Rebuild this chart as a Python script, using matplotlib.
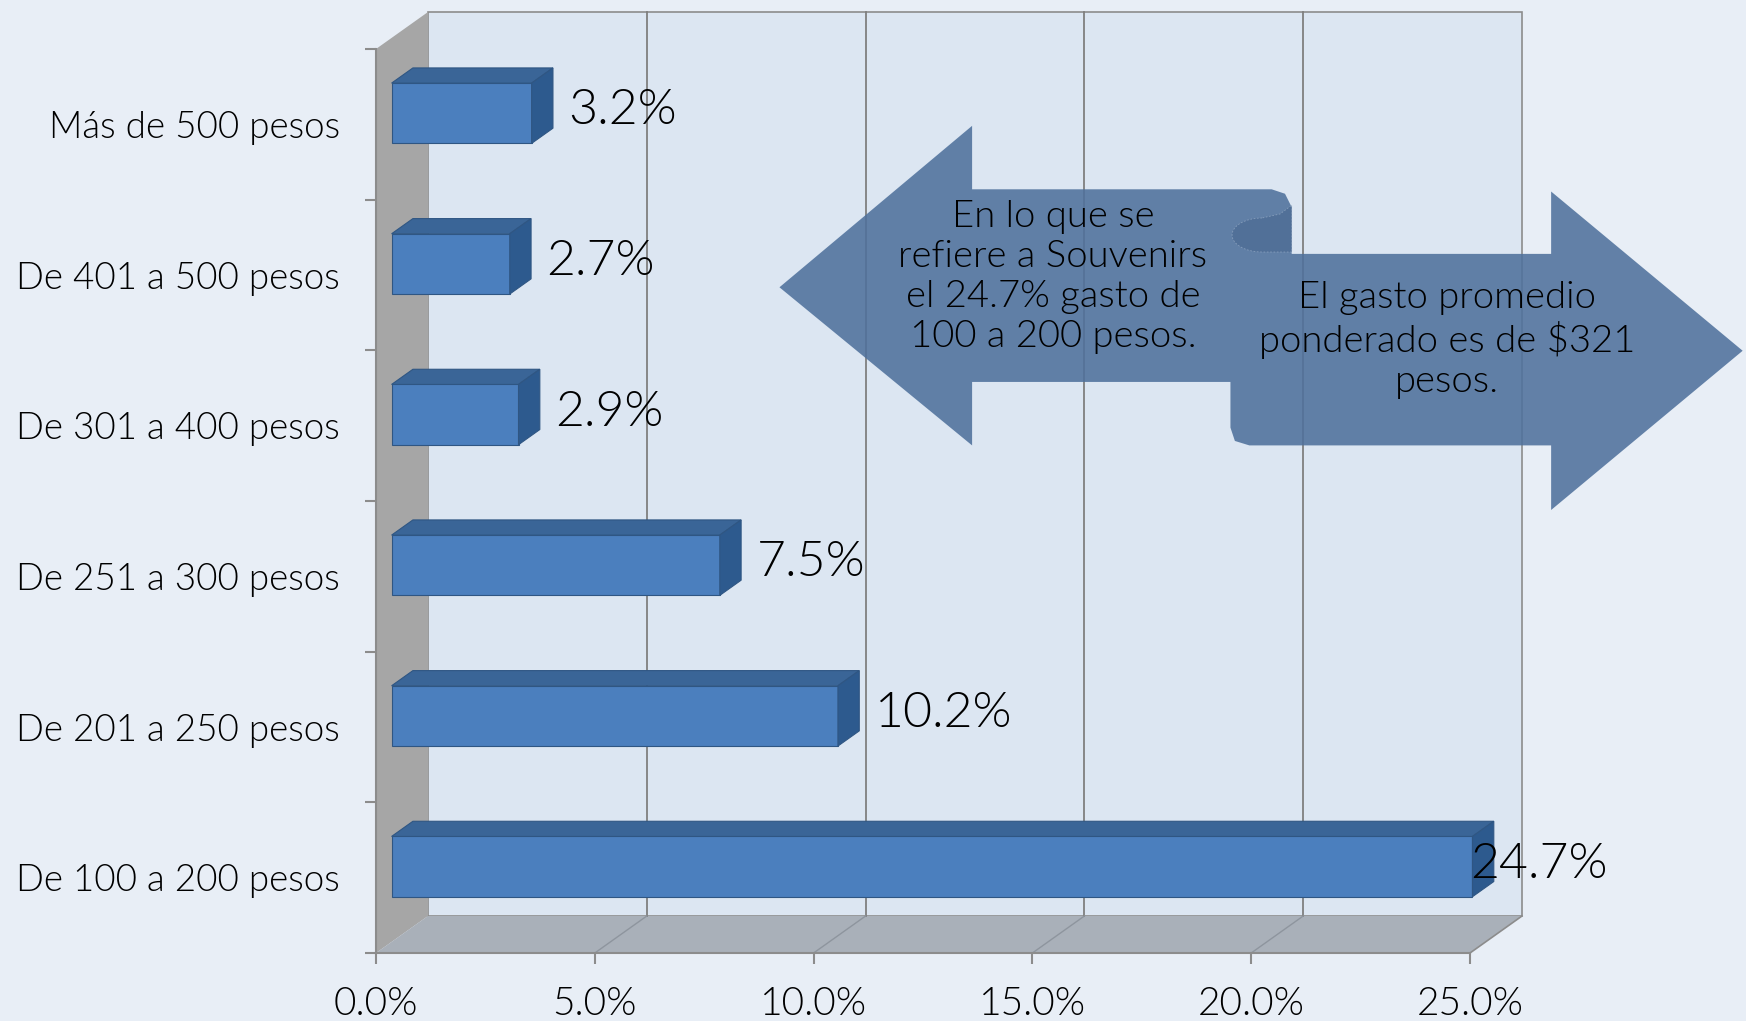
import numpy as np
import matplotlib
matplotlib.use("Agg")
import matplotlib.pyplot as plt
from matplotlib.patches import Polygon

# Data (bottom to top, as drawn)
categories = ["De 100 a 200 pesos", "De 201 a 250 pesos", "De 251 a 300 pesos",
              "De 301 a 400 pesos", "De 401 a 500 pesos", "Más de 500 pesos"]
values = [24.7, 10.2, 7.5, 2.9, 2.7, 3.2]
xticks = [0, 5, 10, 15, 20, 25]
note_left = "En lo que se\nrefiere a Souvenirs\nel 24.7% gasto de\n100 a 200 pesos."
note_right = "El gasto promedio\nponderado es de $321\npesos."

W, H = 1746, 1021
bg = "#E8EEF6"
FONT = "Lato"
LIGHT = 350  # picks Lato-Light
fig = plt.figure(figsize=(W / 100, H / 100), dpi=100, facecolor=bg)

# front plane of the pseudo-3d plot, in pixels
x0, x1, ytop, ybot = 376, 1470, 49, 953
ax = fig.add_axes([x0 / W, 1 - ybot / H, (x1 - x0) / W, (ybot - ytop) / H])
ax.set_xlim(0, 25)
ax.set_ylim(-0.5, 5.5)
ax.patch.set_alpha(0)

# depth offset (pixels -> data units)
DX = 52 / ((x1 - x0) / 25)
DY = 37 / ((ybot - ytop) / 6)


def proj(x, y, z):
    return (x + z * DX, y + z * DY)


def face(pts, **kw):
    p = Polygon([proj(*q) for q in pts], closed=True, clip_on=False, **kw)
    ax.add_patch(p)
    return p


# walls
face([(0, 5.5, 1), (25, 5.5, 1), (25, -0.5, 1), (0, -0.5, 1)], facecolor="#DCE6F2",
     edgecolor="#8C8C8C", linewidth=1.2, zorder=0)
face([(0, 5.5, 0), (0, 5.5, 1), (0, -0.5, 1), (0, -0.5, 0)], facecolor="#A6A6A6",
     edgecolor="none", zorder=0)
face([(0, -0.5, 0), (25, -0.5, 0), (25, -0.5, 1), (0, -0.5, 1)], facecolor="#A9B0B9",
     edgecolor="none", zorder=0)
ax.plot(*zip(proj(25, -0.5, 0), proj(25, -0.5, 1)), color="#8C8C8C", lw=1.2,
        clip_on=False, zorder=1)

# gridlines on back wall and floor
for t in xticks[1:-1]:
    ax.plot(*zip(proj(t, -0.5, 1), proj(t, 5.5, 1)), color="#7F7F7F", lw=1.3,
            clip_on=False, zorder=1)
    ax.plot(*zip(proj(t, -0.5, 0), proj(t, -0.5, 1)), color="#8E959E", lw=1,
            clip_on=False, zorder=1)

# bars
z0, z1, hh = 0.3, 0.71, 0.2
for i, v in enumerate(values):
    face([(0, i - hh, z0), (v, i - hh, z0), (v, i + hh, z0), (0, i + hh, z0)],
         facecolor="#4B7FBE", edgecolor="#2F5683", linewidth=0.8, zorder=3)
    face([(0, i + hh, z0), (v, i + hh, z0), (v, i + hh, z1), (0, i + hh, z1)],
         facecolor="#3A6597", edgecolor="#2F5683", linewidth=0.8, zorder=3)
    face([(v, i - hh, z0), (v, i + hh, z0), (v, i + hh, z1), (v, i - hh, z1)],
         facecolor="#2D5A8E", edgecolor="#2F5683", linewidth=0.8, zorder=3)
    lx = min(v + 1.2, 25.0)
    ax.text(lx, i + 0.09, f"{v:.1f}%", fontsize=36, family=FONT, weight=LIGHT,
            color="black", ha="left", va="center", zorder=5, clip_on=False)

# axes styling
for s in ["top", "right"]:
    ax.spines[s].set_visible(False)
for s in ["left", "bottom"]:
    ax.spines[s].set_color("#8C8C8C")
    ax.spines[s].set_linewidth(1.5)
ax.set_xticks(xticks)
ax.set_xticklabels([f"{t:.1f}%" for t in xticks], fontsize=28, family=FONT,
                   weight=LIGHT, color="black")
ax.tick_params(axis="x", length=8, color="#8C8C8C", width=1.5, pad=16)
ax.set_yticks(range(len(categories)))
ax.set_yticklabels(categories, fontsize=26.5, family=FONT, weight=LIGHT, color="black")
ax.set_yticks(np.arange(-0.5, 6, 1), minor=True)
ax.tick_params(axis="y", which="major", length=0, pad=26)
ax.tick_params(axis="y", which="minor", length=8, color="#8C8C8C", width=1.5)

# annotation arrows, figure pixel coordinates
ov = fig.add_axes([0, 0, 1, 1])
ov.set_xlim(0, W)
ov.set_ylim(H, 0)
ov.axis("off")
ov.patch.set_alpha(0)
s = W / 1568
shape = [(700, 258), (873, 113), (873, 170), (1142, 170), (1154, 174), (1160, 186),
         (1160, 228), (1393, 228), (1393, 172), (1565, 315), (1393, 458), (1393, 400),
         (1122, 400), (1109, 396), (1105, 384), (1105, 343), (873, 343), (873, 400)]
ov.add_patch(Polygon([(x * s, y * s) for x, y in shape], closed=True,
                     facecolor="#4F719C", alpha=0.88, edgecolor="none", zorder=6))
# curl of the u-turn (full-size pixels)
ang = np.linspace(np.pi / 2, 3 * np.pi / 2, 20)
curl = [(1262 + 30 * np.cos(a), 235 - 17 * np.sin(a)) for a in ang]
curl += [(1292, 252), (1292, 205), (1280, 214)]
ov.add_patch(Polygon(curl, closed=True, facecolor="#3C5B84", alpha=0.4,
                     edgecolor="#C8D4E4", linewidth=0.6, linestyle=(0, (2, 2)), zorder=6))
nfont = dict(fontsize=27.5, family=FONT, weight=LIGHT, ha="center", va="center",
             linespacing=1.22, color="black", zorder=7)
ov.text(1053, 277, note_left, **nfont)
ov.text(1447, 340, note_right, **nfont)

fig.savefig("out.png", dpi=100, facecolor=bg)
